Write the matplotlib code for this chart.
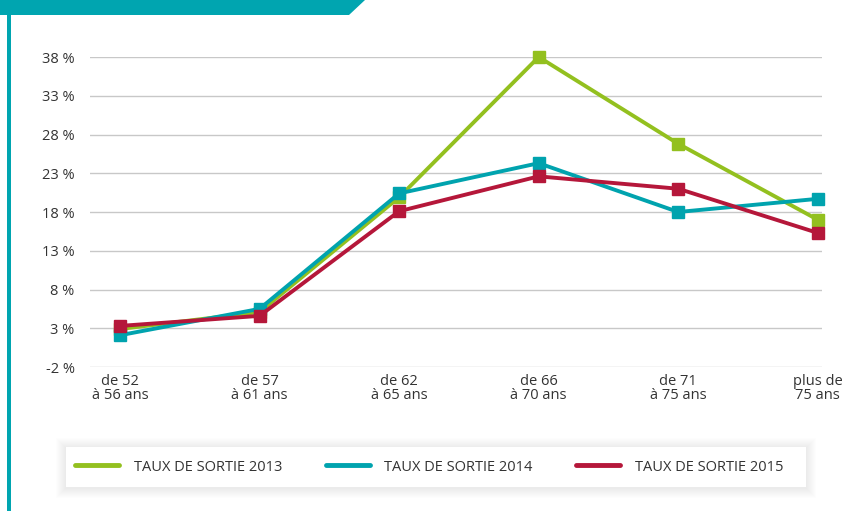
import matplotlib
matplotlib.use("Agg")
import matplotlib.pyplot as plt
from matplotlib.patches import Polygon, Rectangle
import numpy as np

plt.rcParams['font.family'] = ['Open Sans', 'DejaVu Sans']

# tranches d'age
categories = ["de 52\nà 56 ans", "de 57\nà 61 ans", "de 62\nà 65 ans",
              "de 66\nà 70 ans", "de 71\nà 75 ans", "plus de\n75 ans"]
taux_2013 = [2.9, 5.1, 19.9, 38.0, 26.8, 17.0]
taux_2014 = [2.1, 5.5, 20.4, 24.3, 18.0, 19.7]
taux_2015 = [3.3, 4.6, 18.1, 22.6, 21.0, 15.3]
series_labels = ["TAUX DE SORTIE 2013", "TAUX DE SORTIE 2014", "TAUX DE SORTIE 2015"]
yticks = [-2, 3, 8, 13, 18, 23, 28, 33, 38]

colors = ["#93c01f", "#00a3ae", "#b5173a"]

fig = plt.figure(figsize=(8.52, 5.11), dpi=100)
ax = fig.add_axes([90/852, 1-367/511, (822-90)/852, (367-57)/511])

x = np.arange(len(categories))
for vals, c, lab in zip([taux_2013, taux_2014, taux_2015], colors, series_labels):
    ax.plot(x, vals, color=c, lw=2.8, marker="s", markersize=8.5,
            label=lab, clip_on=False, zorder=3)

ax.set_xlim(-0.215, 5.03)
ax.set_ylim(-2, 38)
ax.set_yticks(yticks)
ax.set_yticklabels([f"{t} %" for t in yticks], fontsize=10.5, color="#333333")
ax.set_xticks(x)
ax.set_xticklabels(categories, fontsize=10.5, color="#333333", linespacing=0.95)
ax.tick_params(length=0, pad=5)
ax.tick_params(axis="y", pad=11)
ax.grid(axis="y", color="#c8c8c8", lw=1)
ax.set_axisbelow(True)
for s in ax.spines.values():
    s.set_visible(False)
# dernier libellé un peu décalé vers la gauche comme l'original
ax.get_xticklabels()[-1].set_x(4.93)

# bandeau et trait gauche
teal = "#00a5b0"
fig.add_artist(Polygon([[0, 1], [365/852, 1], [349/852, 1-15/511], [0, 1-15/511]],
                       closed=True, transform=fig.transFigure, color=teal, lw=0))
fig.add_artist(Rectangle((7/852, 0), 4/852, 1, transform=fig.transFigure,
                         color=teal, lw=0))

# cadre de la légende avec ombre douce
bx0, by0, bx1, by1 = 66, 447, 806, 487
for d in range(10, 0, -1):
    fig.add_artist(Rectangle(((bx0-d)/852, 1-(by1+d+1)/511), (bx1-bx0+2*d)/852,
                             (by1-by0+2*d)/511, transform=fig.transFigure,
                             color="black", alpha=0.008, lw=0))
fig.add_artist(Rectangle((bx0/852, 1-by1/511), (bx1-bx0)/852, (by1-by0)/511,
                         transform=fig.transFigure, color="white", lw=0))

handles = [plt.Line2D([], [], color=c, lw=3.5, solid_capstyle="round") for c in colors]
fig.legend(handles, series_labels, loc="center", ncol=3, frameon=False,
           bbox_to_anchor=((bx0+bx1)/2/852 - 0.008, 1-(by0+by1)/2/511),
           fontsize=10.5, handlelength=3.0, columnspacing=3.0, handletextpad=1.0,
           labelcolor="#333333")

fig.savefig("out.png", dpi=100)
